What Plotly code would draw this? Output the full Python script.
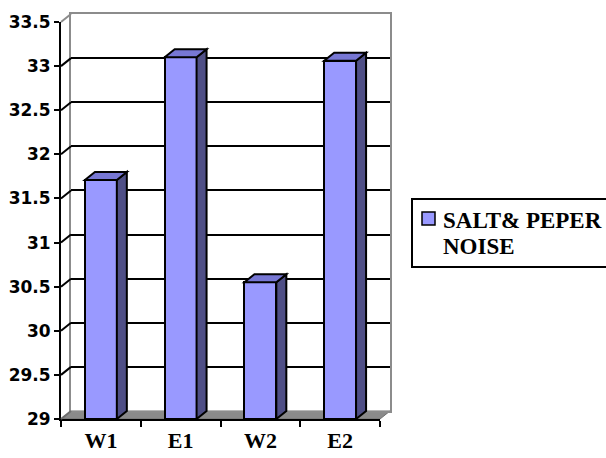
import plotly.graph_objects as go

# ---- data ----
categories = ["W1", "E1", "W2", "E2"]
values = [31.71, 33.10, 30.55, 33.06]
series_lines = ["SALT& PEPER", "NOISE"]
y_tick_vals = [29, 29.5, 30, 30.5, 31, 31.5, 32, 32.5, 33, 33.5]
y_tick_text = ["29", "29.5", "30", "30.5", "31", "31.5", "32", "32.5", "33", "33.5"]

# ---- geometry / style ----
Y_MIN, Y_MAX = 29, 33.5
W_PX, H_PX = 606, 458
L, R, T, B = 61, 216, 14, 39
DX, DY = 10, 8              # 3-D depth in pixels
plot_w = W_PX - L - R
plot_h = H_PX - T - B
front_w = plot_w - DX
front_h = plot_h - DY
xdom = front_w / plot_w
ydom = front_h / plot_h
dxp = DX / plot_w
dyp = DY / plot_h
n = len(categories)
dxd = DX / (front_w / n)
dyd = DY * (Y_MAX - Y_MIN) / front_h
bar_w = 0.40

FRONT = "#9999FF"
SIDE = "#4F4F86"
TOP = "#7777D4"
WALL = "#8C8C8C"
FLOOR = "#8A8A8A"
SERIF = "Liberation Serif"
SANS = "DejaVu Sans"


def py(v):
    return (v - Y_MIN) / (Y_MAX - Y_MIN) * ydom


def pxp(px):   # pixel x -> paper
    return (px - L) / plot_w


def pyp(pix):  # pixel y -> paper
    return (H_PX - B - pix) / plot_h


fig = go.Figure()

# back wall subplot (drawn first)
fig.add_trace(go.Scatter(x=[None], y=[None], xaxis="x", yaxis="y",
                         showlegend=False, hoverinfo="skip"))

# front bars
fig.add_trace(go.Bar(
    x=categories, y=[v - Y_MIN for v in values], base=Y_MIN,
    width=bar_w, xaxis="x2", yaxis="y2", name=" ".join(series_lines),
    showlegend=False,
    marker=dict(color=FRONT, line=dict(color="black", width=2)),
))

shapes = []
# floor
shapes.append(dict(
    type="path", xref="paper", yref="paper", layer="below",
    path=f"M0,0 L{xdom},0 L1,{dyp} L{dxp},{dyp} Z",
    fillcolor=FLOOR, line=dict(color="#6E6E6E", width=1),
))
# left wall diagonals
for v in y_tick_vals:
    if v == Y_MAX:
        col = WALL
    elif v == Y_MIN:
        col = "#6E6E6E"
    else:
        col = "black"
    shapes.append(dict(
        type="line", xref="paper", yref="paper", layer="above",
        x0=0, y0=py(v), x1=dxp, y1=py(v) + dyp,
        line=dict(color=col, width=2),
    ))
# bar side and top faces
for i, v in enumerate(values):
    xl = i - bar_w / 2
    xr = i + bar_w / 2
    shapes.append(dict(
        type="path", xref="x2", yref="y2", layer="above",
        path=(f"M{xr},{Y_MIN} L{xr + dxd},{Y_MIN + dyd} "
              f"L{xr + dxd},{v + dyd} L{xr},{v} Z"),
        fillcolor=SIDE, line=dict(color="black", width=2),
    ))
    shapes.append(dict(
        type="path", xref="x2", yref="y2", layer="above",
        path=(f"M{xl},{v} L{xl + dxd},{v + dyd} "
              f"L{xr + dxd},{v + dyd} L{xr},{v} Z"),
        fillcolor=TOP, line=dict(color="black", width=2),
    ))

# legend box (drawn by hand to match the reference placement)
shapes.append(dict(
    type="rect", xref="paper", yref="paper", layer="above",
    x0=pxp(412), x1=pxp(608), y0=pyp(199), y1=pyp(267),
    fillcolor="white", line=dict(color="black", width=2),
))
shapes.append(dict(
    type="rect", xref="paper", yref="paper", layer="above",
    x0=pxp(422), x1=pxp(435), y0=pyp(212), y1=pyp(225),
    fillcolor=FRONT, line=dict(color="black", width=1.5),
))
annotations = []
for k, line in enumerate(series_lines):
    annotations.append(dict(
        xref="paper", yref="paper", x=pxp(442), y=pyp(221 + 25 * k),
        xanchor="left", yanchor="middle", showarrow=False,
        text=f"<b>{line}</b>", borderpad=0,
        font=dict(family=SERIF, size=23, color="black"),
    ))

fig.update_layout(
    width=W_PX, height=H_PX,
    margin=dict(l=L, r=R, t=T, b=B, autoexpand=False),
    paper_bgcolor="white",
    plot_bgcolor="rgba(0,0,0,0)",
    showlegend=False,
    bargap=0,
    shapes=shapes,
    annotations=annotations,
    xaxis=dict(
        domain=[dxp, 1], anchor="y", range=[-0.5, 3.5],
        showline=True, mirror=True, linecolor=WALL, linewidth=2,
        showgrid=False, zeroline=False, showticklabels=False, ticks="",
        fixedrange=True, automargin=False,
    ),
    yaxis=dict(
        domain=[dyp, 1], anchor="x", range=[Y_MIN, Y_MAX],
        tickvals=y_tick_vals[1:-1], showgrid=True, gridcolor="black",
        gridwidth=2, showline=True, mirror=True, linecolor=WALL,
        linewidth=2, zeroline=False, showticklabels=False, ticks="",
        fixedrange=True, automargin=False,
    ),
    xaxis2=dict(
        domain=[0, xdom], anchor="y2", type="category",
        range=[-0.5, n - 0.5], tickson="boundaries",
        tickvals=categories, ticktext=[f"<b>{c}</b>" for c in categories],
        ticks="outside", ticklen=6, tickwidth=2, tickcolor="black",
        showline=True, linecolor="black", linewidth=2,
        showgrid=False, zeroline=False, ticklabelstandoff=1,
        tickfont=dict(family=SERIF, size=22, color="black"),
        fixedrange=True, automargin=False,
    ),
    yaxis2=dict(
        domain=[0, ydom], anchor="x2", range=[Y_MIN, Y_MAX],
        tickvals=y_tick_vals, ticktext=[f"<b>{t}</b>" for t in y_tick_text],
        ticks="outside", ticklen=5, tickwidth=2, tickcolor="black",
        showline=True, linecolor="black", linewidth=2,
        showgrid=False, zeroline=False,
        tickfont=dict(family=SANS, size=17, color="black"),
        fixedrange=True, automargin=False,
    ),
)

fig.write_html("out.html", config={"displayModeBar": False})
